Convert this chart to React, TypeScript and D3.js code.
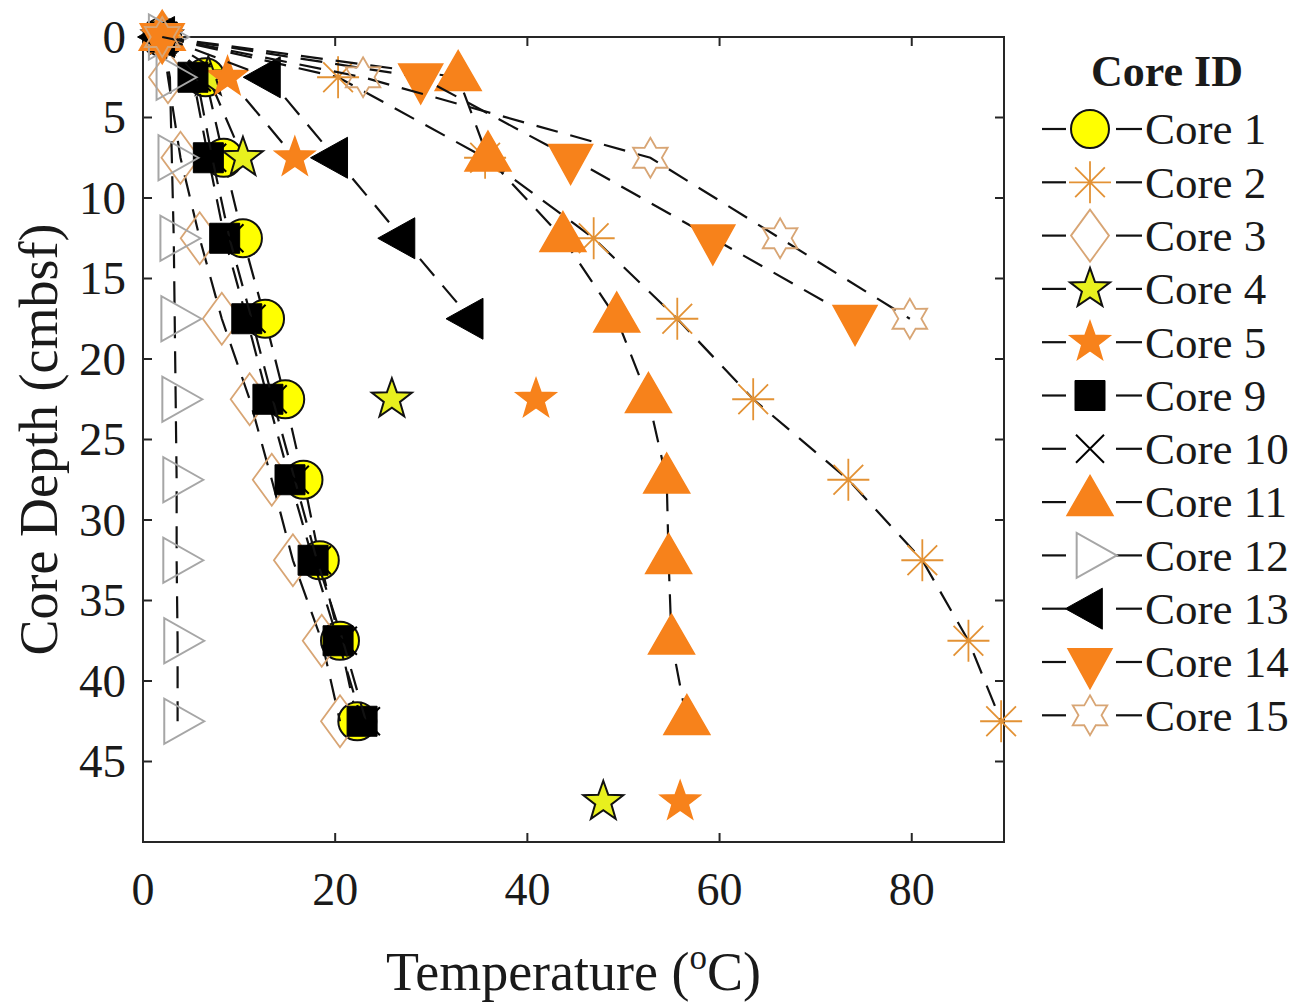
import React from 'react';
import * as d3 from 'd3';

// ---------- data ----------
const depths = [0, 2.5, 7.5, 12.5, 17.5, 22.5, 27.5, 32.5, 37.5, 42.5, 47.5];
const core1 = [2, 6.5, 8.4, 10.4, 12.7, 14.8, 16.7, 18.4, 20.5, 22.3, null];
const core2 = [2, 20.3, 35.6, 46.9, 55.6, 63.5, 73.4, 81.1, 85.9, 89.3, null];
const core3 = [2, 2.6, 3.9, 5.9, 8.2, 11.1, 13.4, 15.6, 18.6, 20.5, null];
const core4 = [2, 6.8, 10.4, null, null, 25.9, null, null, null, null, 47.9];
const core5 = [2, 8.8, 15.8, null, null, 40.9, null, null, null, null, 55.9];
const core9 = [2, 5.2, 6.8, 8.5, 10.8, 13.0, 15.3, 17.7, 20.3, 22.8, null];
const core10 = [2, 5.6, 7.2, 9.0, 11.3, 13.5, 15.8, 18.1, 20.8, 23.2, null];
const core11 = [2, 32.8, 35.9, 43.7, 49.3, 52.6, 54.5, 54.7, 55.0, 56.6, null];
const core12 = [2, 2.8, 3.0, 3.2, 3.3, 3.4, 3.5, 3.5, 3.6, 3.6, null];
const core13 = [2, 13.0, 20.0, 27.0, 34.1, null, null, null, null, null, null];
const core14 = [2, 28.9, 44.5, 59.3, 74.1, null, null, null, null, null, null];
const core15 = [2, 22.9, 52.8, 66.3, 79.8, null, null, null, null, null, null];

const coreNames = ['Core 1', 'Core 2', 'Core 3', 'Core 4', 'Core 5', 'Core 9', 'Core 10', 'Core 11', 'Core 12', 'Core 13', 'Core 14', 'Core 15'];
const coreValues = [core1, core2, core3, core4, core5, core9, core10, core11, core12, core13, core14, core15];

const xTicks = [0, 20, 40, 60, 80];
const yTicks = [0, 5, 10, 15, 20, 25, 30, 35, 40, 45];
const xDomain = [0, 89.6];
const yDomain = [0, 50];

// ---------- styles ----------
const ORANGE = '#F7821B';
const TAN = '#D8A574';
const markerStyles = [
  { type: 'circle', fill: '#FFFF00', stroke: '#111', sw: 2 },
  { type: 'asterisk', fill: 'none', stroke: '#E39235', sw: 1.8 },
  { type: 'diamond', fill: 'none', stroke: TAN, sw: 1.8 },
  { type: 'pentagram', fill: '#E8F01E', stroke: '#111', sw: 2 },
  { type: 'pentagram', fill: ORANGE, stroke: ORANGE, sw: 1.5 },
  { type: 'square', fill: '#000', stroke: '#000', sw: 1 },
  { type: 'x', fill: 'none', stroke: '#000', sw: 2 },
  { type: 'up', fill: ORANGE, stroke: ORANGE, sw: 1.5 },
  { type: 'right', fill: 'none', stroke: '#A6A6A6', sw: 2 },
  { type: 'left', fill: '#000', stroke: '#000', sw: 1 },
  { type: 'down', fill: ORANGE, stroke: ORANGE, sw: 1.5 },
  { type: 'hexagram', fill: 'none', stroke: TAN, sw: 1.8 },
];

function starPath(n: number, R: number, r: number, rot: number) {
  const pts: string[] = [];
  for (let i = 0; i < 2 * n; i++) {
    const rad = i % 2 === 0 ? R : r;
    const a = rot + (i * Math.PI) / n;
    pts.push(`${(rad * Math.cos(a)).toFixed(2)},${(rad * Math.sin(a)).toFixed(2)}`);
  }
  return 'M' + pts.join('L') + 'Z';
}

function markerPath(type: string) {
  switch (type) {
    case 'circle':
      return 'M19,0A19,19 0 1,1 -19,0A19,19 0 1,1 19,0Z';
    case 'square':
      return 'M-15,-15H15V15H-15Z';
    case 'diamond':
      return 'M0,-26L19,0L0,26L-19,0Z';
    case 'pentagram':
      return starPath(5, 21, 8.5, -Math.PI / 2);
    case 'hexagram':
      return starPath(6, 20, 11.5, -Math.PI / 2);
    case 'asterisk': {
      const R = 21, d = R * 0.7071;
      return `M${-R},0L${R},0M0,${-R}L0,${R}M${-d},${-d}L${d},${d}M${-d},${d}L${d},${-d}`;
    }
    case 'x': {
      const d = 14;
      return `M${-d},${-d}L${d},${d}M${-d},${d}L${d},${-d}`;
    }
    case 'up': {
      const w = 46, h = 40;
      return `M0,${-2 * h / 3}L${w / 2},${h / 3}L${-w / 2},${h / 3}Z`;
    }
    case 'down': {
      const w = 44, h = 40;
      return `M0,${2 * h / 3}L${w / 2},${-h / 3}L${-w / 2},${-h / 3}Z`;
    }
    case 'right': {
      const w = 40, h = 45;
      return `M${2 * w / 3},0L${-w / 3},${-h / 2}L${-w / 3},${h / 2}Z`;
    }
    case 'left': {
      const w = 37, h = 41;
      return `M${-2 * w / 3},0L${w / 3},${-h / 2}L${w / 3},${h / 2}Z`;
    }
  }
  return '';
}

const FONT = '"Liberation Serif", "Times New Roman", Times, serif';
const TXT = '#1a1a1a';

export default function App() {
  const W = 1306, H = 1005;
  const left = 143, right = 1004, top = 37, bottom = 842;
  const x = d3.scaleLinear().domain(xDomain).range([left, right]);
  const y = d3.scaleLinear().domain(yDomain).range([top, bottom]);

  const line = d3
    .line<{ t: number | null; d: number }>()
    .defined((p) => p.t != null)
    .x((p) => x(p.t as number))
    .y((p) => y(p.d));

  const tickLen = 9;
  const legX = 1090;
  const legY0 = 129;
  const legStep = 53.3;

  return (
    <svg
      width={W}
      height={H}
      viewBox={`0 0 ${W} ${H}`}
      style={{ position: 'absolute', left: 0, top: 0, background: '#fff' }}
    >
      <rect x={0} y={0} width={W} height={H} fill="#fff" />
      {/* axes box */}
      <rect x={left} y={top} width={right - left} height={bottom - top} fill="none" stroke="#262626" strokeWidth={2} />
      {xTicks.map((t) => (
        <g key={'xt' + t}>
          <line x1={x(t)} x2={x(t)} y1={bottom} y2={bottom - tickLen} stroke="#262626" strokeWidth={2} />
          <line x1={x(t)} x2={x(t)} y1={top} y2={top + tickLen} stroke="#262626" strokeWidth={2} />
          <text x={x(t)} y={905} textAnchor="middle" fontFamily={FONT} fontSize={46} fill={TXT}>
            {t}
          </text>
        </g>
      ))}
      {yTicks.map((t) => (
        <g key={'yt' + t}>
          <line x1={left} x2={left + tickLen} y1={y(t)} y2={y(t)} stroke="#262626" strokeWidth={2} />
          <line x1={right} x2={right - tickLen} y1={y(t)} y2={y(t)} stroke="#262626" strokeWidth={2} />
          <text x={126} y={y(t)} dy="0.34em" textAnchor="end" fontFamily={FONT} fontSize={47} fill={TXT}>
            {t}
          </text>
        </g>
      ))}
      {/* axis labels */}
      <text x={(left + right) / 2} y={990} textAnchor="middle" fontFamily={FONT} fontSize={54} fill={TXT}>
        Temperature (
        <tspan fontSize={35} dy={-21}>o</tspan>
        <tspan dy={21}>C)</tspan>
      </text>
      <text
        transform={`translate(57,${(top + bottom) / 2}) rotate(-90)`}
        textAnchor="middle"
        fontFamily={FONT}
        fontSize={54}
        fill={TXT}
      >
        Core Depth (cmbsf)
      </text>

      {/* series */}
      {coreValues.map((vals, i) => {
        const pts = depths.map((d, j) => ({ t: vals[j], d }));
        const st = markerStyles[i];
        const path = markerPath(st.type);
        return (
          <g key={coreNames[i]}>
            <path d={line(pts) || ''} fill="none" stroke="#111" strokeWidth={2.2} strokeDasharray="22,13" />
            {pts
              .filter((p) => p.t != null)
              .map((p, k) => (
                <path
                  key={k}
                  d={path}
                  transform={`translate(${x(p.t as number)},${y(p.d)})`}
                  fill={st.fill}
                  stroke={st.stroke}
                  strokeWidth={st.sw}
                  strokeLinejoin="miter"
                />
              ))}
          </g>
        );
      })}

      {/* legend */}
      <text x={1167} y={86} textAnchor="middle" fontFamily={FONT} fontSize={44} fontWeight="bold" fill={TXT}>
        Core ID
      </text>
      {coreNames.map((name, i) => {
        const cy = legY0 + i * legStep;
        const st = markerStyles[i];
        return (
          <g key={'leg' + name}>
            <line x1={1042} x2={1066} y1={cy} y2={cy} stroke="#111" strokeWidth={2.2} />
            <line x1={1116} x2={1142} y1={cy} y2={cy} stroke="#111" strokeWidth={2.2} />
            <path
              d={markerPath(st.type)}
              transform={`translate(${legX},${cy})`}
              fill={st.fill}
              stroke={st.stroke}
              strokeWidth={st.sw}
            />
            <text x={1145} y={cy} dy="0.34em" fontFamily={FONT} fontSize={45} fill={TXT}>
              {name}
            </text>
          </g>
        );
      })}
    </svg>
  );
}
